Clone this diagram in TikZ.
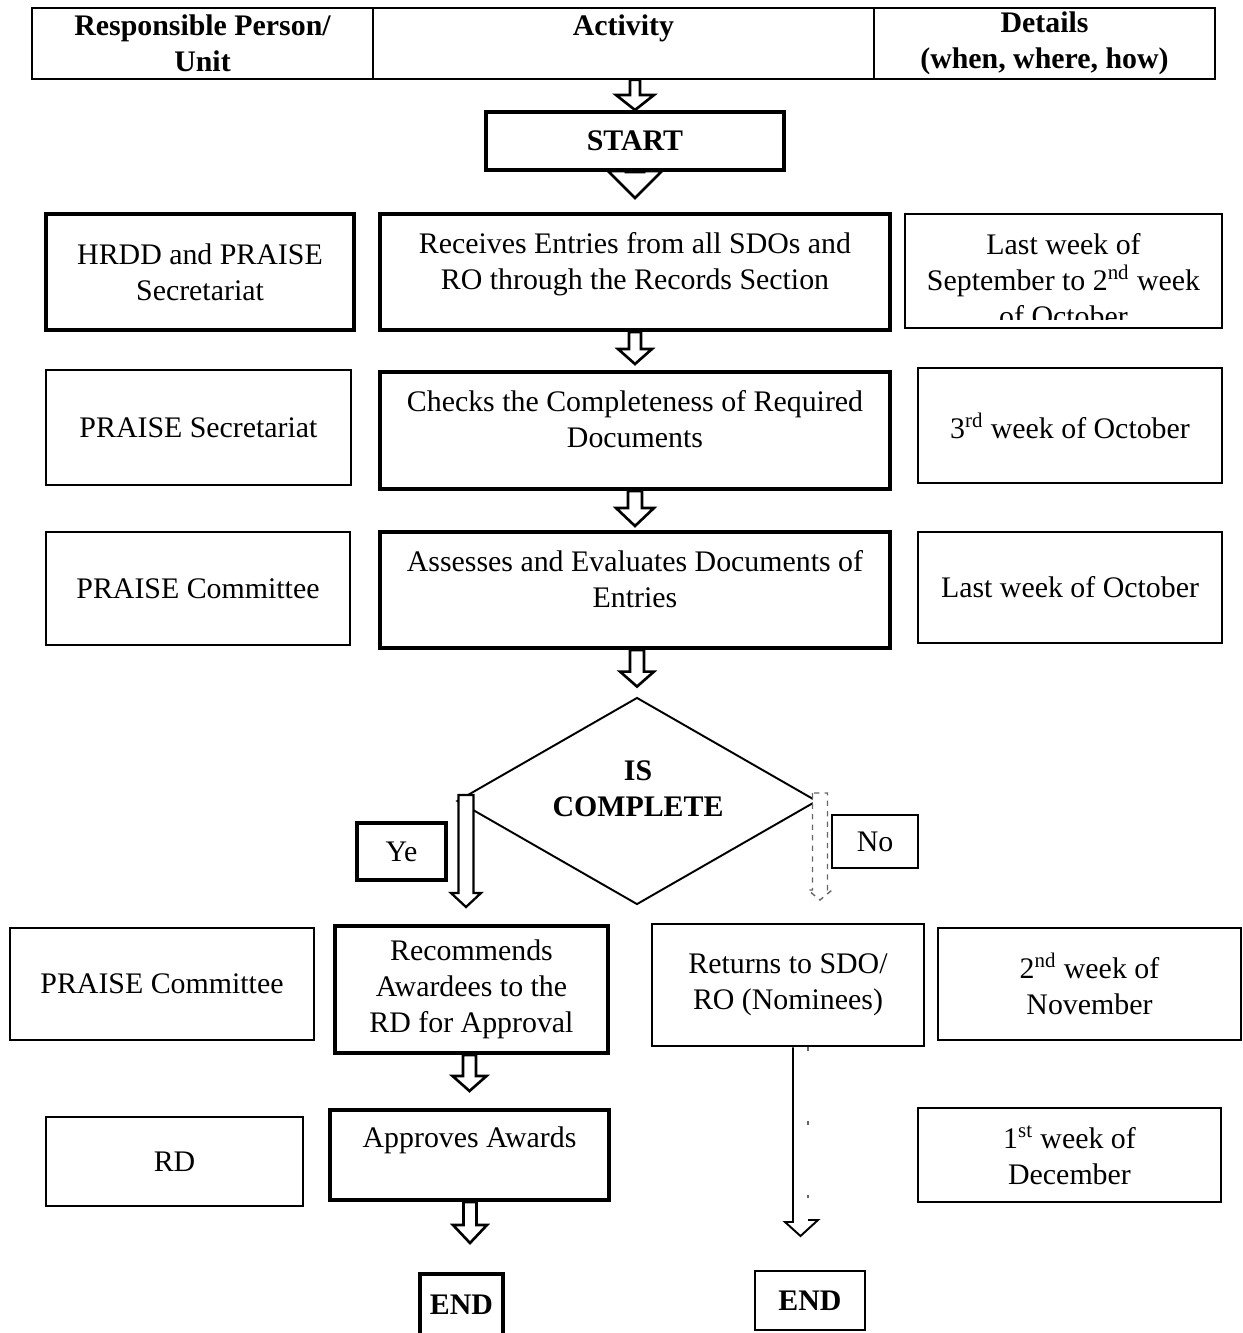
\documentclass[tikz,border=0pt]{standalone}
\usepackage{fontspec}
\setmainfont{Liberation Serif}
\usetikzlibrary{calc,shapes.geometric}

\tikzset{
  basebox/.style={draw, align=center, inner sep=0pt, font=\fontsize{17}{20.5}\selectfont},
  heavybox/.style={basebox, line width=2.3pt},
  midbox/.style={basebox, line width=1.5pt},
  lightbox/.style={basebox, line width=1.1pt},
  hdrcell/.style={basebox, line width=0.8pt, font=\fontsize{17}{20.5}\selectfont\bfseries},
  raisedtext/.style={text depth=13pt},
  plaintext/.style={align=center, inner sep=0pt, font=\fontsize{17}{20.5}\selectfont},
  decision/.style={draw, shape=diamond, aspect=1.74, line width=1.1pt, inner sep=0pt},
  blockline/.style={draw, fill=white, line width=1.5pt, line join=miter},
  faintline/.style={draw=black!60, line width=0.8pt, dashed}
}

% hollow block arrow: options, from, tip, half shaft, half head, head length
\newcommand{\blockarrow}[6][]{%
  \draw[blockline,#1] let \p1=#2, \p2=#3 in
    (\x2-#4,\y1) -- (\x2-#4,\y2+#6) -- (\x2-#5,\y2+#6) -- (\x2,\y2)
    -- (\x2+#5,\y2+#6) -- (\x2+#4,\y2+#6) -- (\x2+#4,\y1) -- cycle;}

\begin{document}
\begin{tikzpicture}[x=0.02cm, y=-0.02cm]
\useasboundingbox (0,0) rectangle (1242,1333);

% table head
\node[hdrcell, minimum width=6.82cm, minimum height=1.42cm] (hdrA) at (202.5,43.5) {Responsible Person/\\Unit};
\node[hdrcell, minimum width=10.02cm, minimum height=1.42cm] (hdrB) at (623.5,43.5) {Activity\\\mbox{}};
\node[hdrcell, minimum width=6.82cm, minimum height=1.42cm] (hdrC) at (1044.5,43.5) {Details\\(when, where, how)};

\node[heavybox, font=\fontsize{17}{20.5}\selectfont\bfseries, minimum width=5.96cm, minimum height=1.16cm] (start) at (635,141) {START};

% row 1
\node[heavybox, minimum width=6.16cm, minimum height=2.32cm] (who1) at (200,272) {HRDD and PRAISE\\Secretariat};
\node[heavybox, raisedtext, minimum width=10.2cm, minimum height=2.32cm] (act1) at (635,272) {Receives Entries from all SDOs and\\RO through the Records Section};
\node[midbox, minimum width=6.34cm, minimum height=2.28cm] (when1) at (1063.5,271) {};
\begin{scope}
  \clip (when1.north west) rectangle ([yshift=0.2cm]when1.south east);
  \node[plaintext] (when1txt) at (1063.5,280) {Last week of\\September to 2\textsuperscript{nd} week\\of October};
\end{scope}

% row 2
\node[lightbox, minimum width=6.1cm, minimum height=2.3cm] (who2) at (198.5,427.5) {PRAISE Secretariat};
\node[heavybox, raisedtext, minimum width=10.2cm, minimum height=2.34cm] (act2) at (635,430.5) {Checks the Completeness of Required\\Documents};
\node[midbox, minimum width=6.08cm, minimum height=2.3cm] (when2) at (1070,425.5) {3\textsuperscript{rd} week of October};

% row 3
\node[lightbox, minimum width=6.08cm, minimum height=2.26cm] (who3) at (198,588.5) {PRAISE Committee};
\node[heavybox, raisedtext, minimum width=10.2cm, minimum height=2.32cm] (act3) at (635,590) {Assesses and Evaluates Documents of\\Entries};
\node[midbox, minimum width=6.08cm, minimum height=2.22cm] (when3) at (1070,587.5) {Last week of October};

% decision
\node[decision, minimum width=7.2cm, minimum height=4.14cm] (check) at (637,801) {};
\node[plaintext, font=\fontsize{17}{20.5}\selectfont\bfseries] (checklbl) at (638,789) {IS\\COMPLETE};
\node[heavybox, minimum width=1.78cm, minimum height=1.14cm] (yes) at (401.5,851.5) {Ye};
\node[midbox, minimum width=1.72cm, minimum height=1.06cm] (no) at (875,841.5) {No};
\coordinate (yesTop) at (466,795);
\coordinate (yesTip) at (466,907);
\coordinate (noTop) at (820,793);
\coordinate (noTip) at (820,900);

% row 4
\node[lightbox, minimum width=6.08cm, minimum height=2.24cm] (who4) at (162,984) {PRAISE Committee};
\node[heavybox, minimum width=5.46cm, minimum height=2.54cm] (act4) at (471.5,989.5) {Recommends\\Awardees to the\\RD for Approval};
\node[midbox, minimum width=5.44cm, minimum height=2.44cm] (ret) at (788,985) {Returns to SDO/\\RO (Nominees)};
\node[midbox, minimum width=6.06cm, minimum height=2.24cm] (when4) at (1089.5,984) {2\textsuperscript{nd} week of\\November};

% row 5
\node[lightbox, minimum width=5.14cm, minimum height=1.78cm] (who5) at (174.5,1161.5) {RD};
\node[heavybox, minimum width=5.58cm, minimum height=1.8cm] (act5) at (469.5,1155) {Approves Awards\\\mbox{}};
\node[midbox, minimum width=6.06cm, minimum height=1.88cm] (when5) at (1069.5,1155) {1\textsuperscript{st} week of\\December};

% ends
\node[heavybox, font=\fontsize{17}{20.5}\selectfont\bfseries, minimum width=1.66cm, minimum height=1.24cm] (endL) at (461.5,1305) {END};
\node[midbox, font=\fontsize{17}{20.5}\selectfont\bfseries, minimum width=2.2cm, minimum height=1.18cm] (endR) at (810,1300.5) {END};
\coordinate (endTipL) at (470,1243);
\coordinate (retTip) at (800.5,1236);

% arrows
\blockarrow{(hdrB.south)}{(start.north)}{0.1cm}{0.38cm}{0.3cm}
\blockarrow{(start.south)}{([yshift=0.28cm]act1.north)}{0.18cm}{0.54cm}{0.54cm}
\blockarrow{(act1.south)}{([yshift=0.12cm]act2.north)}{0.12cm}{0.34cm}{0.3cm}
\blockarrow{(act2.south)}{([yshift=0.08cm]act3.north)}{0.14cm}{0.38cm}{0.36cm}
\blockarrow{(act3.south)}{([yshift=0.2cm]check.north)}{0.14cm}{0.34cm}{0.3cm}
\blockarrow[line width=1.3pt]{(yesTop)}{(yesTip)}{0.15cm}{0.3cm}{0.28cm}
\blockarrow[faintline, fill=white]{(noTop)}{(noTip)}{0.15cm}{0.24cm}{0.2cm}
\blockarrow{(act4.south)}{([yshift=0.34cm]act5.north)}{0.13cm}{0.34cm}{0.3cm}
\blockarrow{(act5.south)}{(endTipL)}{0.13cm}{0.34cm}{0.36cm}
\draw[line width=1.1pt] let \p1=(ret.south), \p2=(retTip) in
  (\x2-0.15cm,\y1) -- (\x2-0.15cm,\y2+0.28cm) -- (\x2-0.31cm,\y2+0.28cm) -- (\x2,\y2)
  -- (\x2+0.35cm,\y2+0.32cm) -- (\x2+0.15cm,\y2+0.32cm);
\draw[faintline, dash pattern=on 2pt off 40pt] let \p1=(ret.south), \p2=(retTip) in
  (\x2+0.15cm,\y1) -- (\x2+0.15cm,\y2+0.32cm);
\end{tikzpicture}
\end{document}
